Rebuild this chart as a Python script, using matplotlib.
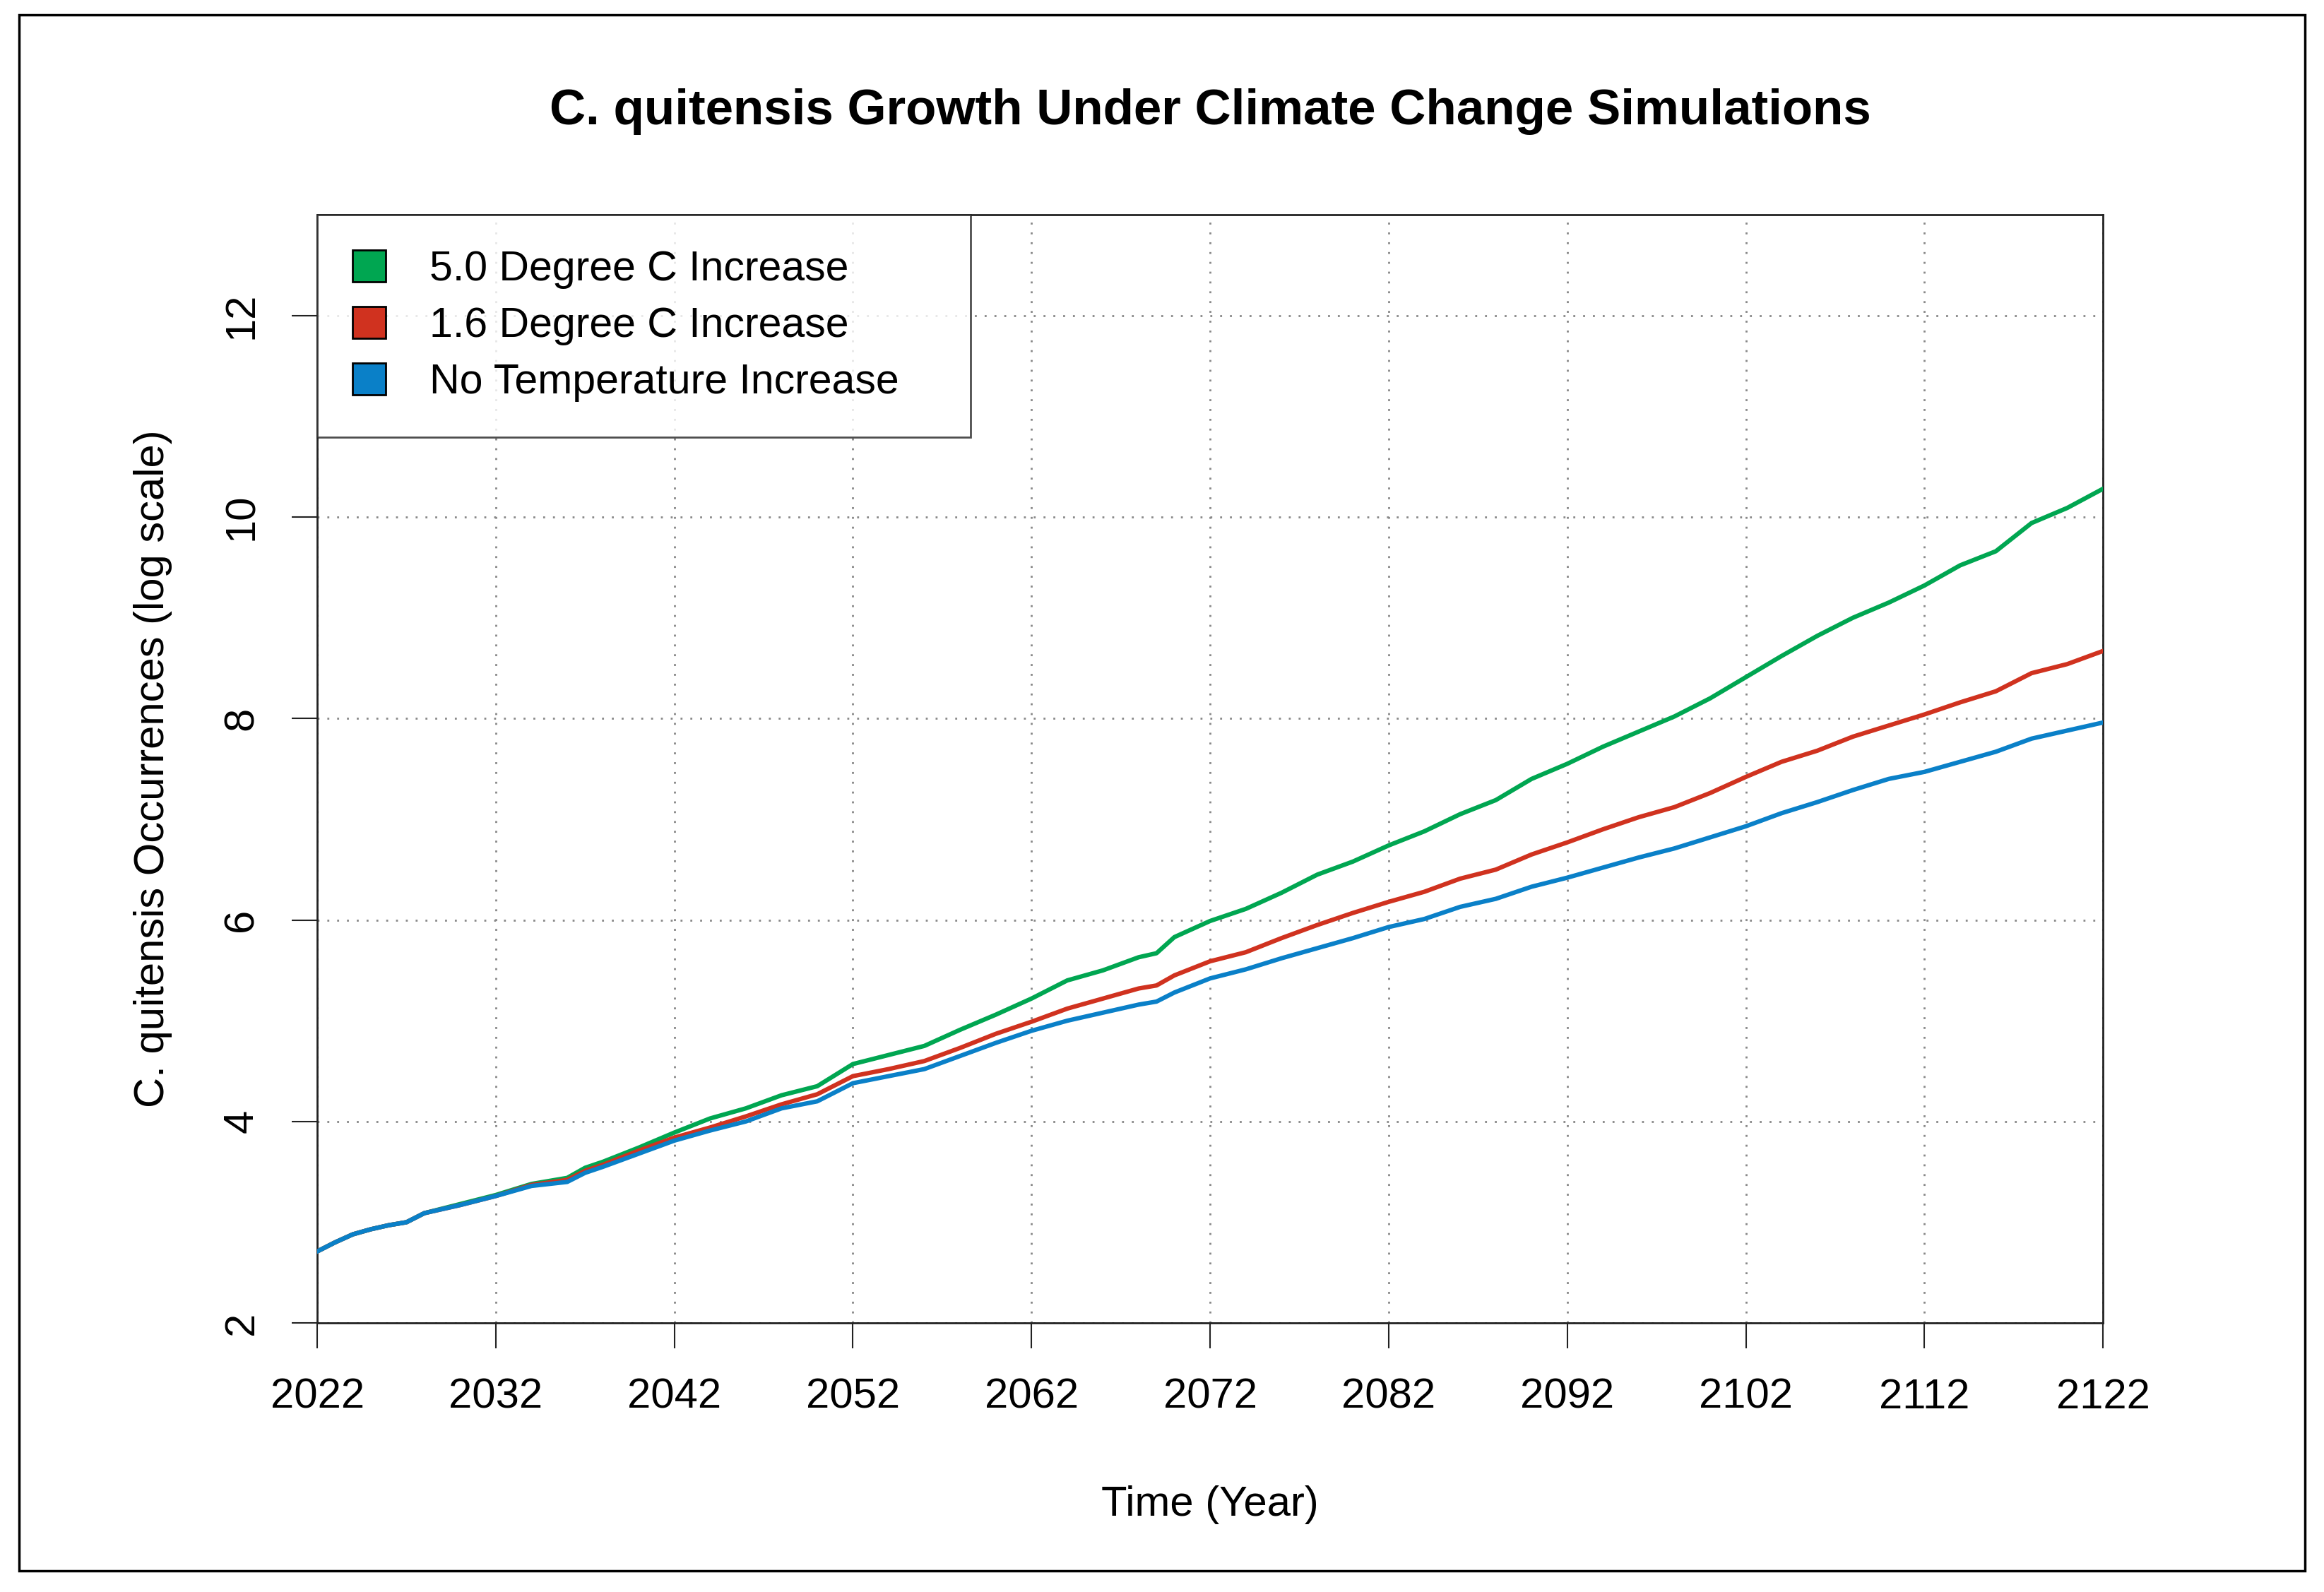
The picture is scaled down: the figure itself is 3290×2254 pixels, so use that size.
import matplotlib.pyplot as plt
from matplotlib.patches import Rectangle, Patch

plt.rcParams['font.family'] = ['Liberation Sans', 'DejaVu Sans']

years = [2022, 2023, 2024, 2025, 2026, 2027, 2028, 2030, 2032, 2034, 2036, 2037, 2038,
         2040, 2042, 2044, 2046, 2048, 2050, 2052, 2054, 2056, 2058, 2060, 2062, 2064,
         2066, 2068, 2069, 2070, 2072, 2074, 2076, 2078, 2080, 2082, 2084, 2086, 2088,
         2090, 2092, 2094, 2096, 2098, 2100, 2102, 2104, 2106, 2108, 2110, 2112, 2114,
         2116, 2118, 2120, 2122]

no_increase = [2.71, 2.80, 2.88, 2.93, 2.97, 3.00, 3.09, 3.17, 3.26, 3.36, 3.40, 3.49, 3.55,
               3.68, 3.81, 3.91, 4.00, 4.13, 4.20, 4.38, 4.45, 4.52, 4.65, 4.78, 4.90, 5.00,
               5.08, 5.16, 5.19, 5.28, 5.42, 5.51, 5.62, 5.72, 5.82, 5.93, 6.01, 6.13, 6.21,
               6.33, 6.42, 6.52, 6.62, 6.71, 6.82, 6.93, 7.06, 7.17, 7.29, 7.40, 7.47, 7.57,
               7.67, 7.80, 7.88, 7.96]

inc_1_6 = [2.71, 2.80, 2.88, 2.93, 2.97, 3.00, 3.09, 3.17, 3.26, 3.37, 3.42, 3.51, 3.57,
           3.71, 3.84, 3.94, 4.05, 4.17, 4.27, 4.45, 4.52, 4.60, 4.73, 4.87, 4.99, 5.12,
           5.22, 5.32, 5.35, 5.45, 5.59, 5.68, 5.82, 5.95, 6.07, 6.18, 6.28, 6.41, 6.50,
           6.65, 6.77, 6.90, 7.02, 7.12, 7.26, 7.42, 7.57, 7.68, 7.82, 7.93, 8.04, 8.16,
           8.27, 8.45, 8.54, 8.67]

inc_5_0 = [2.71, 2.80, 2.88, 2.93, 2.97, 3.00, 3.09, 3.18, 3.27, 3.38, 3.44, 3.54, 3.60,
           3.74, 3.89, 4.03, 4.13, 4.26, 4.35, 4.57, 4.66, 4.75, 4.91, 5.06, 5.22, 5.40,
           5.50, 5.63, 5.67, 5.83, 5.99, 6.11, 6.27, 6.45, 6.58, 6.74, 6.88, 7.05, 7.19,
           7.40, 7.55, 7.72, 7.87, 8.02, 8.20, 8.41, 8.62, 8.82, 9.00, 9.15, 9.32, 9.52,
           9.66, 9.94, 10.09, 10.28]

labels = ['5.0 Degree C Increase', '1.6 Degree C Increase', 'No Temperature Increase']
colors = ['#00A651', '#D0321F', '#0A80C8']
xticks = list(range(2022, 2123, 10))
yticks = [2, 4, 6, 8, 10, 12]

fig = plt.figure(figsize=(32.9, 22.54), dpi=100)
ax = fig.add_axes([0.1365, 0.169, 0.7684, 0.6961])

# outer frame around the whole figure
fig.patches.append(Rectangle((0.0082, 0.0135), 0.9836, 0.9772, transform=fig.transFigure,
                             fill=False, edgecolor='black', linewidth=2.5))

for vals, c in zip([inc_5_0, inc_1_6, no_increase], colors):
    ax.plot(years, vals, color=c, linewidth=4.5, zorder=3)

ax.set_xlim(2022, 2122)
ax.set_ylim(2, 13)
ax.set_xticks(xticks)
ax.set_yticks(yticks)
ax.set_yticklabels([str(t) for t in yticks], rotation=90, va='center')
ax.tick_params(axis='both', direction='out', length=26, width=1.5, labelsize=43,
               color='#222222')
ax.tick_params(axis='x', pad=30)
ax.tick_params(axis='y', pad=31)
ax.grid(True, linestyle=(0, (1, 4)), color='#888888', linewidth=2.0)
for s in ax.spines.values():
    s.set_linewidth(2.0)
    s.set_color('#222222')

ax.set_xlabel('Time (Year)', fontsize=43, labelpad=70)
ax.set_ylabel('C. quitensis Occurrences (log scale)', fontsize=43, labelpad=51)
ax.set_title('C. quitensis Growth Under Climate Change Simulations', fontsize=51,
             fontweight='bold', pad=92)

handles = [Patch(facecolor=c, edgecolor='black', linewidth=2) for c in colors]
leg = ax.legend(handles, labels, loc='upper left', bbox_to_anchor=(0, 0, 0.366, 1),
                mode='expand', fontsize=42.5, frameon=True, fancybox=False,
                borderaxespad=0, borderpad=0.85, handlelength=0.8, handleheight=0.8,
                handletextpad=1.05, labelspacing=0.42, edgecolor='#222222')
leg.get_frame().set_linewidth(2.0)

plt.savefig('out.png', dpi=100)
